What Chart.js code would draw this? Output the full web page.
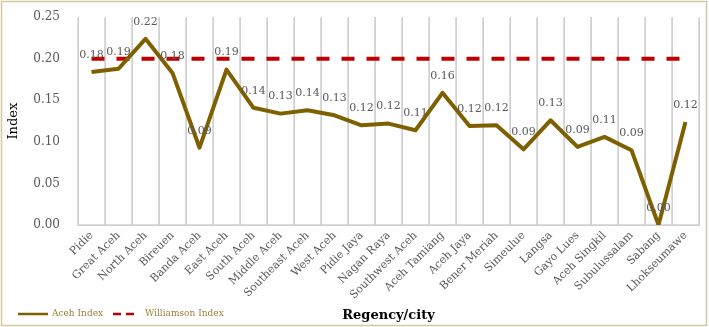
<!DOCTYPE html>
<html>
<head>
<meta charset="utf-8">
<script src="https://cdn.jsdelivr.net/npm/chart.js@4/dist/chart.umd.min.js"></script>
<style>
html,body{margin:0;padding:0;background:#fff;}
#wrap{width:709px;height:327px;position:relative;background:#fff;}
</style>
</head>
<body>
<div id="wrap"><canvas id="c" width="709" height="327"></canvas></div>
<script>
const categories = ["Pidie","Great Aceh","North Aceh","Bireuen","Banda Aceh","East Aceh","South Aceh","Middle Aceh","Southeast Aceh","West Aceh","Pidie Jaya","Nagan Raya","Southwest Aceh","Aceh Tamiang","Aceh Jaya","Bener Meriah","Simeulue","Langsa","Gayo Lues","Aceh Singkil","Subulussalam","Sabang","Lhokseumawe"];
const acehIndex = [0.184,0.188,0.224,0.183,0.093,0.187,0.141,0.134,0.138,0.132,0.120,0.122,0.114,0.159,0.119,0.120,0.091,0.126,0.094,0.106,0.090,0.000,0.124];
const williamsonIndex = [0.20,0.20,0.20,0.20,0.20,0.20,0.20,0.20,0.20,0.20,0.20,0.20,0.20,0.20,0.20,0.20,0.20,0.20,0.20,0.20,0.20,0.20,0.20];
const yTicks = [0.00,0.05,0.10,0.15,0.20,0.25];

const SERIF = "'DejaVu Serif', 'Liberation Serif', serif";

// category separator grid lines + baseline, drawn behind everything
const gridPlugin = {
  id: 'catGrid',
  afterDraw(chart){
    const ctx = chart.ctx;
    const area = chart.chartArea;
    const n = categories.length;
    const step = (area.right - area.left) / n;
    ctx.save();
    ctx.globalCompositeOperation = 'destination-over';
    ctx.strokeStyle = '#d0d0d0';
    ctx.lineWidth = 1.5;
    for (let i = 0; i <= n; i++) {
      const x = Math.round(area.left + i * step);
      ctx.beginPath(); ctx.moveTo(x, area.top); ctx.lineTo(x, area.bottom); ctx.stroke();
    }
    ctx.beginPath(); ctx.moveTo(area.left - 1, Math.round(area.bottom)); ctx.lineTo(area.right + 1, Math.round(area.bottom)); ctx.stroke();
    ctx.restore();
  }
};

const labelPlugin = {
  id: 'valueLabels',
  afterDatasetsDraw(chart){
    const ctx = chart.ctx;
    const meta = chart.getDatasetMeta(0);
    ctx.save();
    ctx.font = "11px " + SERIF;
    ctx.fillStyle = '#595959';
    ctx.textAlign = 'center';
    ctx.textBaseline = 'middle';
    meta.data.forEach((pt, i) => {
      ctx.fillText(acehIndex[i].toFixed(2), pt.x, pt.y - 17);
    });
    ctx.restore();
  }
};

const legendPlugin = {
  id: 'customLegend',
  afterDraw(chart){
    const ctx = chart.ctx;
    const y = 314;
    const ds = chart.data.datasets;
    ctx.save();
    ctx.strokeStyle = '#d6c7a1';
    ctx.lineWidth = 1.5;
    ctx.strokeRect(1.5,1.5,chart.width-4,chart.height-3);
    ctx.font = "9px " + SERIF;
    ctx.textBaseline = 'middle';
    ctx.fillStyle = '#9c7f3c';
    ctx.strokeStyle = ds[0].borderColor;
    ctx.lineWidth = 2.5;
    ctx.beginPath(); ctx.moveTo(18,y); ctx.lineTo(48,y); ctx.stroke();
    ctx.fillText(ds[0].label, 52, y);
    ctx.strokeStyle = ds[1].borderColor;
    ctx.setLineDash([8,5]);
    ctx.beginPath(); ctx.moveTo(113,y); ctx.lineTo(139,y); ctx.stroke();
    ctx.setLineDash([]);
    ctx.fillText(ds[1].label, 145, y);
    ctx.restore();
  }
};

new Chart(document.getElementById('c'), {
  type: 'line',
  data: {
    labels: categories,
    datasets: [
      {
        label: 'Aceh Index',
        data: acehIndex,
        borderColor: '#7f6000',
        backgroundColor: '#7f6000',
        borderWidth: 4,
        pointRadius: 0,
        tension: 0,
        borderJoinStyle: 'round'
      },
      {
        label: 'Williamson Index',
        data: williamsonIndex,
        borderColor: '#c00000',
        backgroundColor: '#c00000',
        borderWidth: 4,
        borderDash: [13,12],
        pointRadius: 0,
        tension: 0
      }
    ]
  },
  options: {
    responsive: false,
    animation: false,
    layout: { padding: { left: 0, top: 15, right: 10, bottom: 0 } },
    plugins: { legend: { display: false }, tooltip: { enabled: false } },
    scales: {
      x: {
        offset: true,
        grid: { display: true, offset: true, color: '#d0d0d0', lineWidth: 1, drawTicks: false },
        border: { display: true, color: '#d0d0d0' },
        ticks: {
          color: '#595959',
          font: { family: SERIF, size: 11 },
          maxRotation: 45, minRotation: 45, autoSkip: false, padding: 4
        },
        title: {
          display: true, text: 'Regency/city', color: '#000',
          font: { family: SERIF, size: 13, weight: 'bold' },
          padding: { top: 0, bottom: 4 }
        },
        afterFit(scale){ scale.height = 102; }
      },
      y: {
        min: 0, max: 0.25,
        afterBuildTicks(scale){ scale.ticks = yTicks.map(v => ({ value: v })); },
        grid: { display: false },
        border: { display: false },
        ticks: {
          color: '#595959',
          font: { family: SERIF, size: 12 },
          padding: 10,
          callback: v => Number(v).toFixed(2)
        },
        title: {
          display: true, text: 'Index', color: '#000',
          font: { family: SERIF, size: 13 },
          padding: { top: 6, bottom: 0 }
        },
        afterFit(scale){ scale.width = 78; }
      }
    }
  },
  plugins: [gridPlugin, labelPlugin, legendPlugin]
});
</script>
</body>
</html>
